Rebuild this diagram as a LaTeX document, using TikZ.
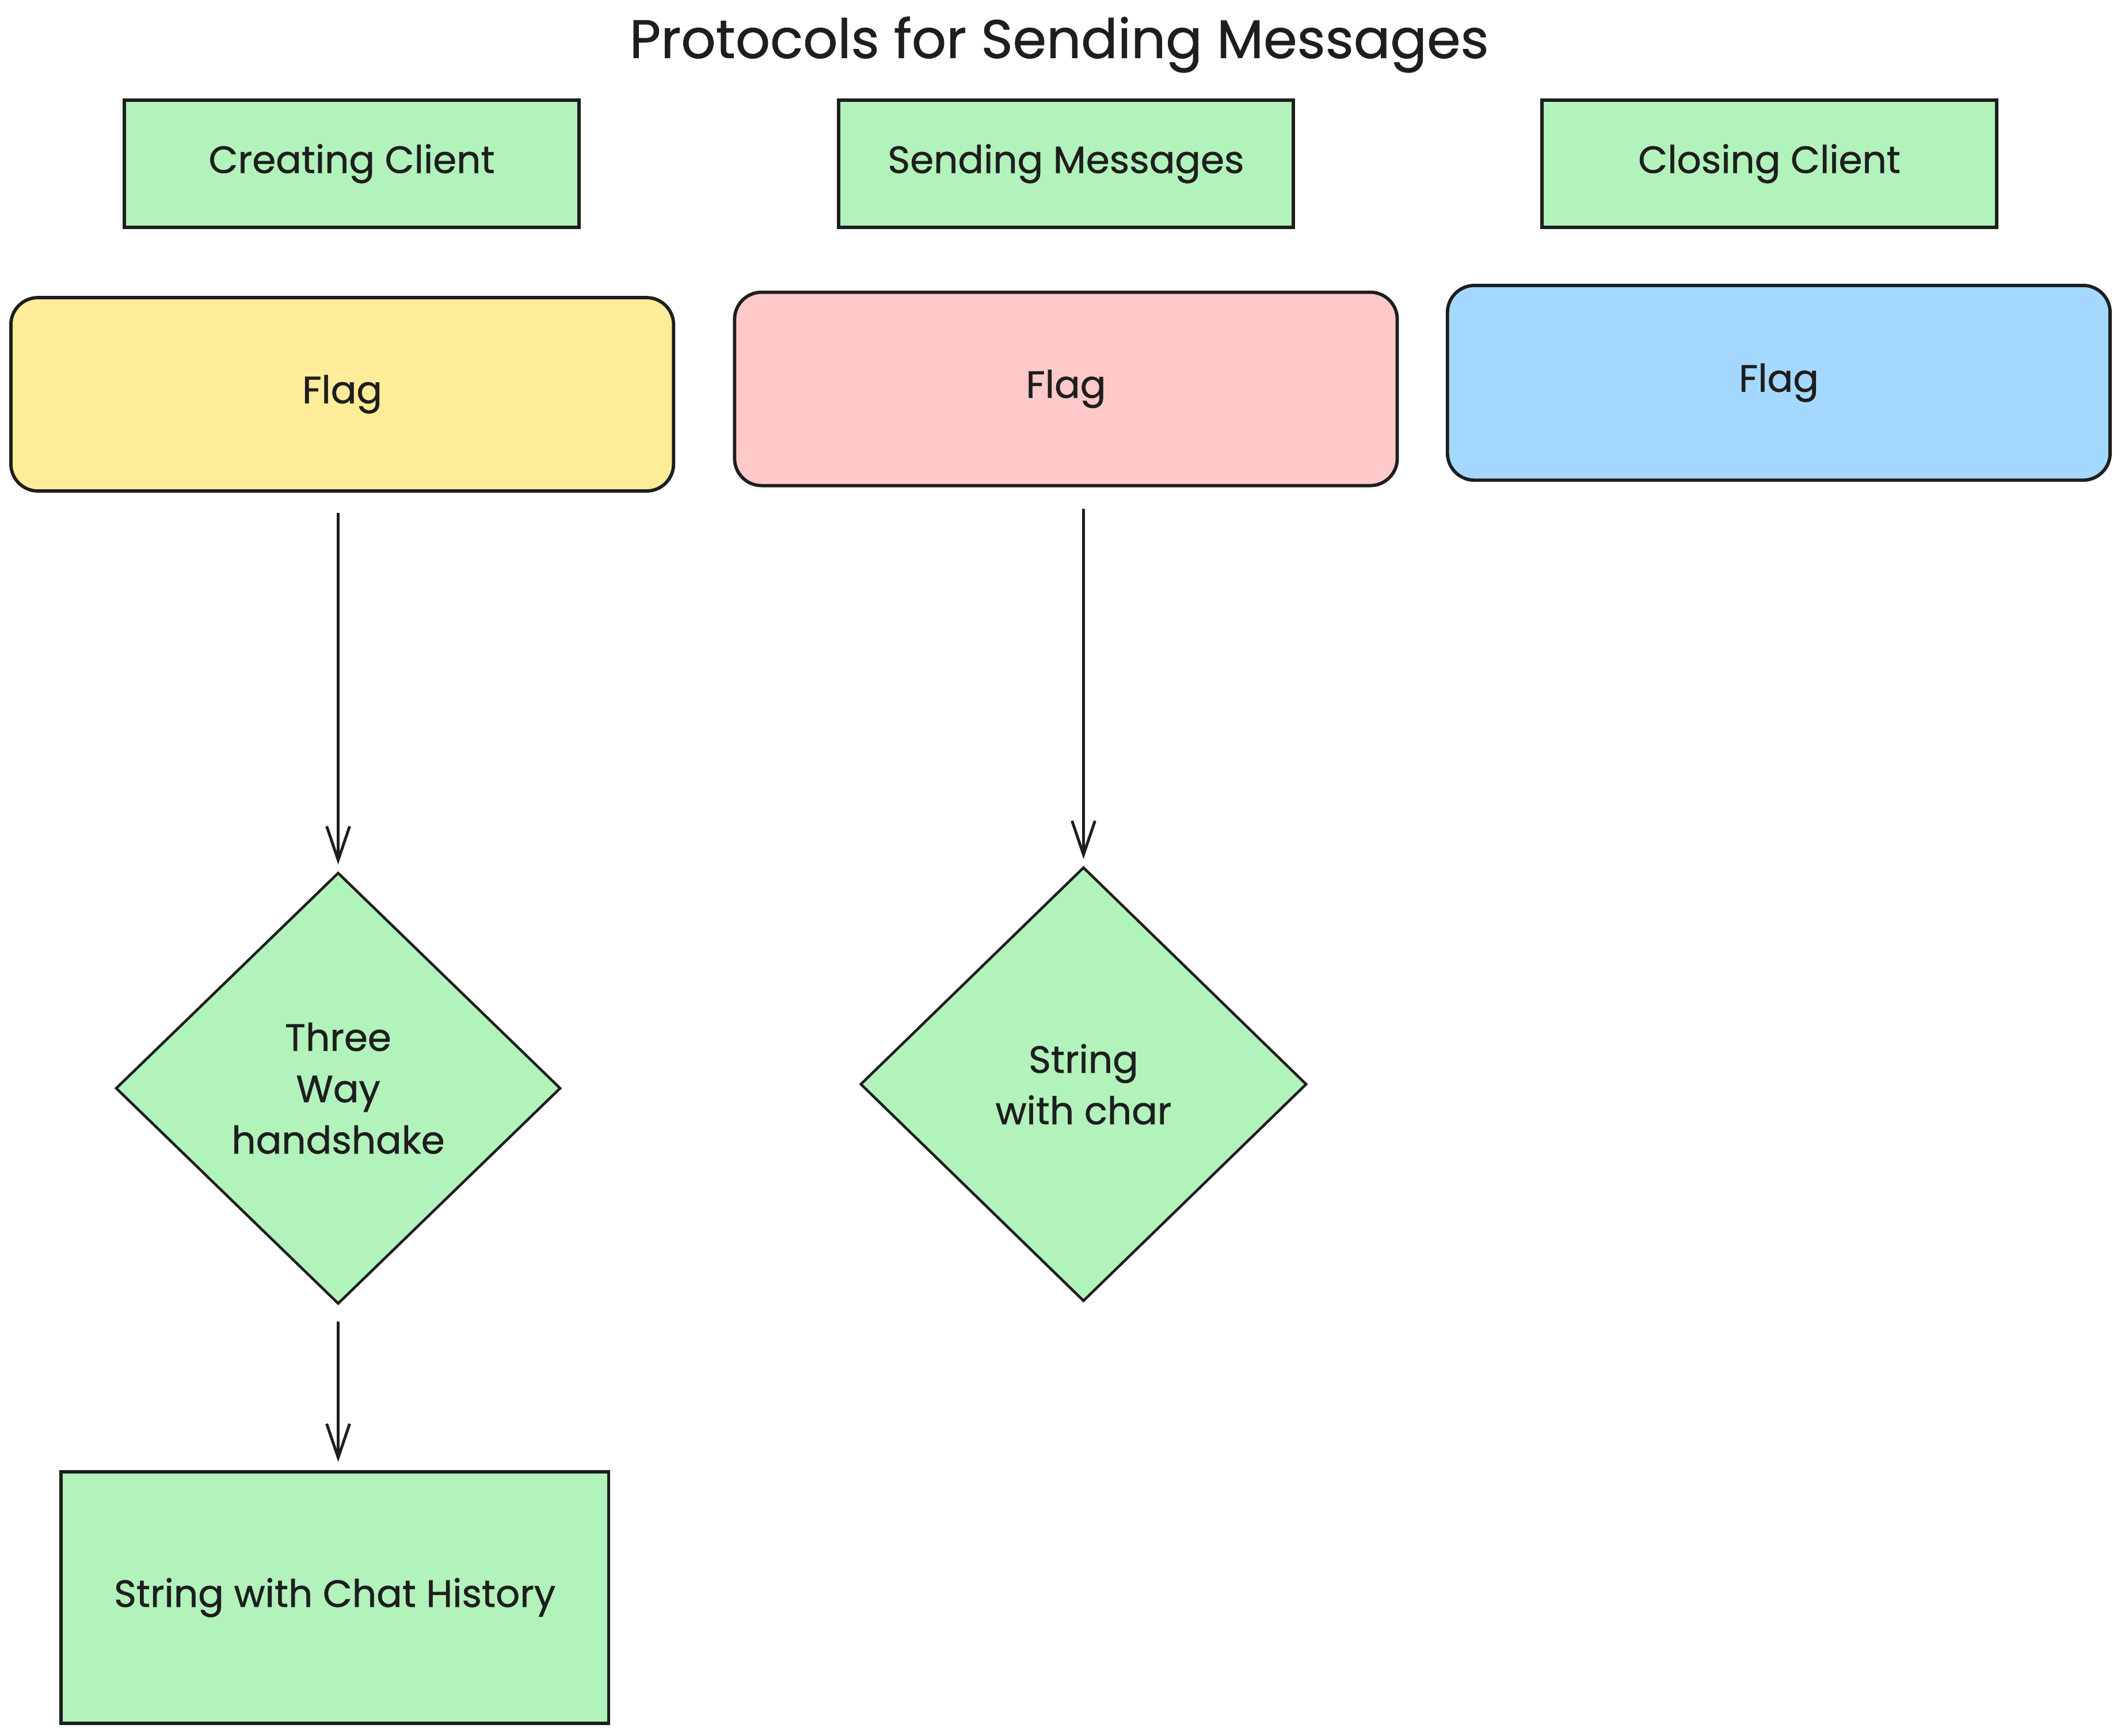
\documentclass[tikz,border=0pt]{standalone}
\usepackage{fontspec}
\setmainfont{Poppins}[FakeBold=0.8]
\usetikzlibrary{shapes.geometric,arrows.meta}
\definecolor{boxgreen}{HTML}{B2F2BB}
\definecolor{flagyellow}{HTML}{FFEC99}
\definecolor{flagred}{HTML}{FFC9C9}
\definecolor{flagblue}{HTML}{A5D8FF}
\definecolor{ink}{HTML}{1E1E1E}
\tikzset{
  txt/.style={text=ink, font=\fontsize{16}{21.6}\selectfont},
  header/.style={draw=ink, fill=boxgreen, line width=1.4pt, minimum width=6.72cm, minimum height=1.88cm, txt},
  flagbox/.style={draw=ink, rounded corners=0.4cm, line width=1.4pt, minimum width=9.8cm, minimum height=2.86cm, txt},
  decision/.style={diamond, draw=ink, fill=boxgreen, line width=1.1pt, inner sep=0pt, align=center, txt},
  link/.style={-{Straight Barb[length=0.5cm,width=0.34cm]}, draw=ink, line width=1.2pt}
}
\begin{document}
\begin{tikzpicture}[x=0.02cm, y=-0.02cm]
        \useasboundingbox (0,0) rectangle (1568,1283);
        % Titulo
        \node[text=ink, font=\fontsize{22.8}{27}\selectfont] (title) at (783,33) {Protocols for Sending Messages};
        % Cabecalhos
        \node[header] (create) at (260,121) {Creating Client};
        \node[header] (send) at (788,121) {Sending Messages};
        \node[header] (close) at (1308,121) {Closing Client};
        % Flags
        \node[flagbox, fill=flagyellow] (flagcreate) at (253,291.5) {Flag};
        \node[flagbox, fill=flagred] (flagsend) at (788,287.5) {Flag};
        \node[flagbox, fill=flagblue, minimum height=2.88cm] (flagclose) at (1315,283) {Flag};
        % Conteudo
        \node[decision, minimum width=6.58cm, minimum height=6.38cm] (handshake) at (250,804.5) {Three\\Way\\handshake};
        \node[decision, minimum width=6.6cm, minimum height=6.42cm] (strchar) at (801,801.5) {String\\with char};
        \node[draw=ink, fill=boxgreen, line width=1.4pt, minimum width=8.1cm, minimum height=3.72cm, txt] (history) at (247.5,1181) {String with Chat History};
        % Setas
        \draw[link, shorten <=0.3cm, shorten >=0.1cm] (flagcreate.south -| handshake.north) -- (handshake.north);
        \draw[link, shorten <=0.24cm, shorten >=0.12cm] (handshake.south) -- (handshake.south |- history.north);
        \draw[link, shorten <=0.32cm, shorten >=0.1cm] (flagsend.south -| strchar.north) -- (strchar.north);
\end{tikzpicture}
\end{document}
